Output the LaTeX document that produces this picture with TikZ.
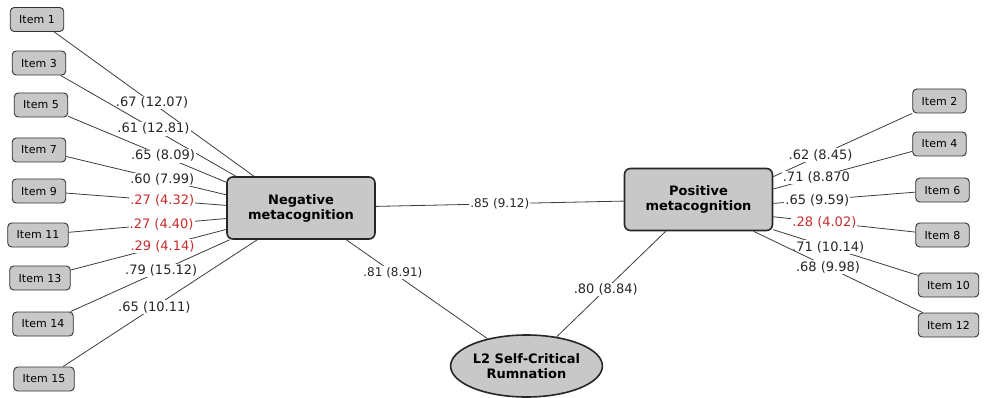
\documentclass[tikz,border=0pt]{standalone}
\usepackage{fontspec}
\setmainfont{DejaVu Sans}
\usepackage{xcolor}
\usetikzlibrary{shapes.geometric}

\definecolor{boxgray}{RGB}{200,200,200}
\definecolor{linegray}{RGB}{60,60,60}
\definecolor{lowred}{RGB}{200,45,45}

\begin{document}
\begin{tikzpicture}[x=1pt, y=-1pt,
	item/.style={draw=black!80, fill=boxgray, rounded corners=4pt, line width=0.9pt, minimum width=53pt, minimum height=24pt, inner xsep=9pt, font=\fontsize{11}{12}\selectfont},
	factor/.style={draw=black!85, fill=boxgray, rounded corners=6pt, line width=1.6pt, minimum width=148pt, minimum height=62pt, align=center, font=\fontsize{13}{15}\selectfont\bfseries},
	rumbox/.style={ellipse, draw=black!85, fill=boxgray, line width=1.6pt, minimum width=143pt, minimum height=62pt, inner sep=0pt, align=center, font=\fontsize{13}{15}\selectfont\bfseries},
	link/.style={draw=linegray, line width=0.8pt},
	lab/.style={fill=white, inner sep=1pt, text=black!85, font=\fontsize{13}{15}\selectfont},
	weak/.style={lab, text=lowred},
	mid/.style={lab, font=\fontsize{12}{14}\selectfont}]
	\useasboundingbox (0,0) rectangle (987,398);

	% latent factors
	\node[factor] (nmeta) at (301,208) {Negative\\metacognition};
	\node[factor] (pmeta) at (698.5,199.5) {Positive\\metacognition};
	\node[rumbox] (rum) at (526.5,366) {L2 Self-Critical\\Rumnation};

	% negative items
	\node[item] (i1) at (37,19.5) {Item 1};
	\node[item] (i3) at (39,63) {Item 3};
	\node[item] (i5) at (41,105) {Item 5};
	\node[item] (i7) at (39,150) {Item 7};
	\node[item] (i9) at (39,191) {Item 9};
	\node[item] (i11) at (38,235) {Item 11};
	\node[item] (i13) at (40,278) {Item 13};
	\node[item] (i14) at (43,324) {Item 14};
	\node[item] (i15) at (44,379) {Item 15};

	% positive items
	\node[item] (i2) at (939.5,101) {Item 2};
	\node[item] (i4) at (939.5,144) {Item 4};
	\node[item] (i6) at (942.5,190) {Item 6};
	\node[item] (i8) at (942.5,235) {Item 8};
	\node[item] (i10) at (948.5,285) {Item 10};
	\node[item] (i12) at (948.5,325) {Item 12};

	% loadings
	\draw[link] (i1) -- (nmeta.146) node[lab, pos=.49] {.67 (12.07)};
	\draw[link] (i3) -- (nmeta.154) node[lab, pos=.53] {.61 (12.81)};
	\draw[link] (i5) -- (nmeta.161) node[lab, pos=.6] {.65 (8.09)};
	\draw[link] (i7) -- (nmeta.170) node[lab, pos=.6] {.60 (7.99)};
	\draw[link] (i9) -- (nmeta.178) node[weak, pos=.6] {.27 (4.32)};
	\draw[link] (i11) -- (nmeta.188) node[weak, pos=.59] {.27 (4.40)};
	\draw[link] (i13) -- (nmeta.196) node[weak, pos=.59] {.29 (4.14)};
	\draw[link] (i14) -- (nmeta.204) node[lab, pos=.57] {.79 (15.12)};
	\draw[link] (i15) -- (nmeta.216) node[lab, pos=.47] {.65 (10.11)};

	\draw[link] (i2) -- (pmeta.17) node[lab, pos=.66] {.62 (8.45)};
	\draw[link] (i4) -- (pmeta.8) node[lab, pos=.69] {.71 (8.870};
	\draw[link] (i6) -- (pmeta.357) node[lab, pos=.69] {.65 (9.59)};
	\draw[link] (i8) -- (pmeta.347) node[weak, pos=.64] {.28 (4.02)};
	\draw[link] (i10) -- (pmeta.338) node[lab, pos=.62] {.71 (10.14)};
	\draw[link] (i12) -- (pmeta.330) node[lab, pos=.56] {.68 (9.98)};

	% factor correlations
	\draw[link] (nmeta) -- (pmeta) node[mid, pos=.5] {.85 (9.12)};
	\draw[link] (nmeta) -- (rum) node[mid, pos=.33] {.81 (8.91)};
	\draw[link] (pmeta) -- (rum) node[lab, pos=.55] {.80 (8.84)};
\end{tikzpicture}
\end{document}
